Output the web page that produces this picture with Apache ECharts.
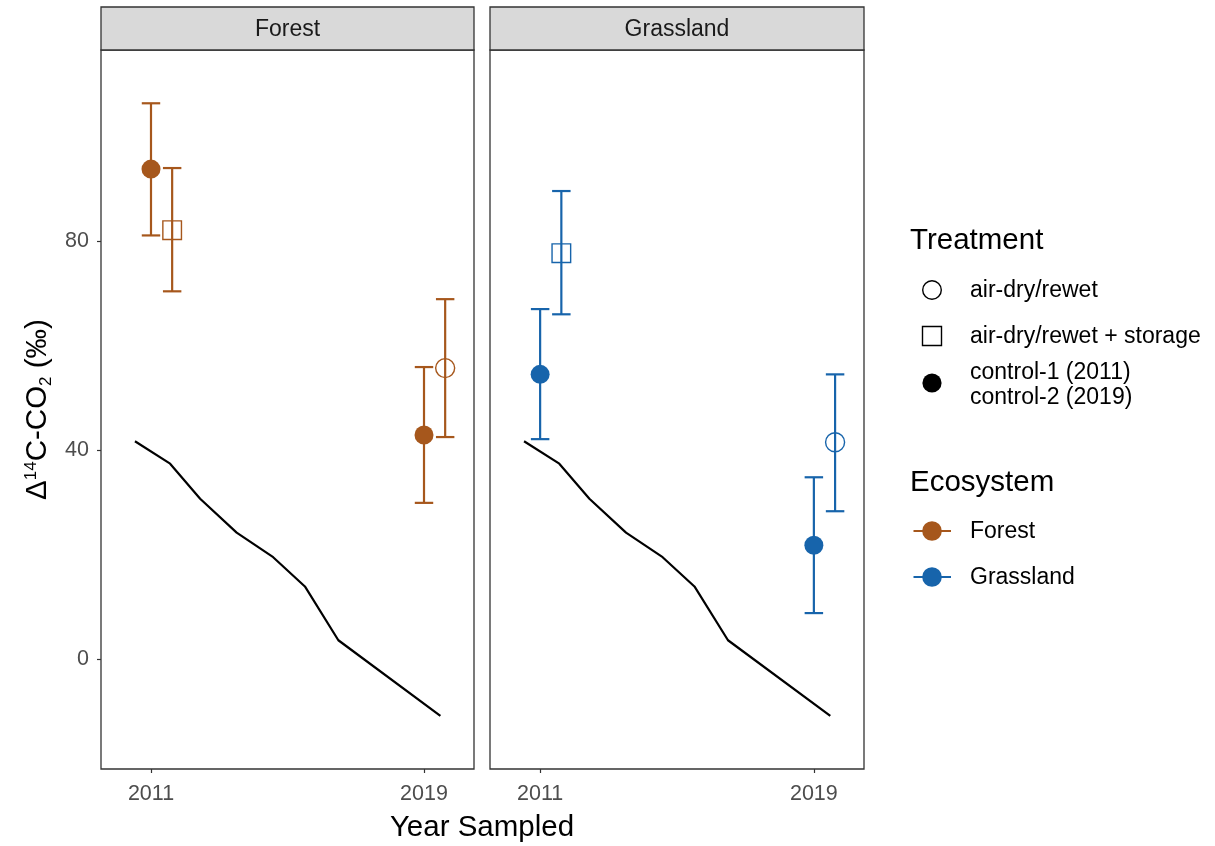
<!DOCTYPE html>
<html>
<head>
<meta charset="utf-8">
<script src="https://cdn.jsdelivr.net/npm/echarts@6/dist/echarts.min.js"></script>
<style>
  html, body { margin: 0; padding: 0; background: #fff; }
  #chart { width: 1215px; height: 846px; }
</style>
</head>
<body>
<div id="chart"></div>
<script>
// sample groups (same order in both panels)
var treatments = ['control', 'storage', 'control', 'airdry'];
var sampleYears = [2011, 2011, 2019, 2019];

// Delta14C of respired CO2 (permil)
var forestMean = [93.8, 82.1, 42.9, 55.7];
var forestLo = [81.1, 70.4, 29.9, 42.5];
var forestHi = [106.4, 94.0, 55.9, 68.9];

var grassMean = [54.5, 77.7, 21.8, 41.5];
var grassLo = [42.1, 66.0, 8.8, 28.3];
var grassHi = [67.0, 89.6, 34.8, 54.5];

// atmospheric record
var atmYears = [2010.53, 2011.56, 2012.44, 2013.51, 2014.58, 2015.51, 2016.49, 2019.48];
var atmD14C = [41.7, 37.4, 30.7, 24.2, 19.5, 13.9, 3.6, -10.9];

var xTicks = [2011, 2019];
var yTicks = [0, 40, 80];

var colors = { Forest: '#A6571C', Grassland: '#1764AB' };
var DODGE = 0.62;
var FONT = '"Liberation Sans", Arial, Helvetica, sans-serif';

function buildData(mean, lo, hi) {
  return mean.map(function (m, i) {
    var x = sampleYears[i] + (treatments[i] === 'control' ? 0 : DODGE);
    return [x, m, lo[i], hi[i], treatments[i]];
  });
}

function errRender(color) {
  return function (params, api) {
    var x = api.value(0);
    var p = api.coord([x, api.value(1)]);
    var lo = api.coord([x, api.value(2)]);
    var hi = api.coord([x, api.value(3)]);
    var capL = api.coord([x - 0.27, api.value(2)])[0];
    var capR = api.coord([x + 0.27, api.value(2)])[0];
    var ls = { stroke: color, lineWidth: 2.2 };
    var kind = api.value(4);
    var children = [
      { type: 'line', shape: { x1: lo[0], y1: lo[1], x2: hi[0], y2: hi[1] }, style: ls },
      { type: 'line', shape: { x1: capL, y1: lo[1], x2: capR, y2: lo[1] }, style: ls },
      { type: 'line', shape: { x1: capL, y1: hi[1], x2: capR, y2: hi[1] }, style: ls }
    ];
    if (kind === 'control') {
      children.push({ type: 'circle', shape: { cx: p[0], cy: p[1], r: 9.5 }, style: { fill: color } });
    } else if (kind === 'storage') {
      children.push({ type: 'rect', shape: { x: p[0] - 9.3, y: p[1] - 9.3, width: 18.6, height: 18.6 },
        style: { fill: null, stroke: color, lineWidth: 1.4 } });
    } else {
      children.push({ type: 'circle', shape: { cx: p[0], cy: p[1], r: 9.5 },
        style: { fill: null, stroke: color, lineWidth: 1.4 } });
    }
    return { type: 'group', children: children };
  };
}

var chart = echarts.init(document.getElementById('chart'));

var panels = [
  { name: 'Forest', left: 101, width: 373, mean: forestMean, lo: forestLo, hi: forestHi },
  { name: 'Grassland', left: 490, width: 374, mean: grassMean, lo: grassLo, hi: grassHi }
];

var grids = [], xAxes = [], yAxes = [], series = [], graphics = [];
var atmLine = atmYears.map(function (y, i) { return [y, atmD14C[i]]; });

panels.forEach(function (pn, k) {
  grids.push({ left: pn.left, width: pn.width, top: 50, height: 719, show: true,
    borderColor: '#333333', borderWidth: 1.3, backgroundColor: '#fff' });
  xAxes.push({
    type: 'value', gridIndex: k, min: 2009.535, max: 2020.465,
    splitLine: { show: false },
    axisLine: { show: false, onZero: false },
    axisTick: { show: true, length: 4, customValues: xTicks, lineStyle: { color: '#333', width: 1.2 } },
    axisLabel: { customValues: xTicks, color: '#4D4D4D', fontSize: 21.5, fontFamily: FONT, margin: 14,
      formatter: function (v) { return String(v); } }
  });
  yAxes.push({
    type: 'value', gridIndex: k, min: -21.05, max: 116.6,
    splitLine: { show: false },
    axisLine: { show: false, onZero: false },
    axisTick: { show: k === 0, length: 4, customValues: yTicks, lineStyle: { color: '#333', width: 1.2 } },
    axisLabel: { show: k === 0, customValues: yTicks, color: '#4D4D4D', fontSize: 21.5, fontFamily: FONT, margin: 12 },
    name: k === 0 ? '{n|Δ}{sup|14}{n|C-CO}{sub|2}{n| (‰)}' : '',
    nameLocation: 'middle', nameRotate: 90, nameGap: 45,
    nameTextStyle: {
      fontFamily: FONT,
      rich: {
        n: { fontSize: 29.5, fontFamily: FONT, color: '#000', lineHeight: 36, verticalAlign: 'middle' },
        sup: { fontSize: 17, fontFamily: FONT, color: '#000', lineHeight: 36, verticalAlign: 'top', padding: [3, 0, 0, 0] },
        sub: { fontSize: 17, fontFamily: FONT, color: '#000', lineHeight: 36, verticalAlign: 'bottom', padding: [0, 0, 1, 0] }
      }
    }
  });
  series.push({
    type: 'line', xAxisIndex: k, yAxisIndex: k, data: atmLine, showSymbol: false,
    lineStyle: { color: '#000', width: 2.2 }, silent: true, z: 2
  });
  series.push({
    type: 'custom', xAxisIndex: k, yAxisIndex: k, data: buildData(pn.mean, pn.lo, pn.hi),
    renderItem: errRender(colors[pn.name]), z: 3, silent: true
  });
  // facet strip
  graphics.push({ type: 'rect', shape: { x: pn.left, y: 7, width: pn.width, height: 43 },
    style: { fill: '#D9D9D9', stroke: '#333333', lineWidth: 1.3 } });
  graphics.push({ type: 'text', x: pn.left + pn.width / 2, y: 30,
    style: { text: pn.name, font: '23px ' + FONT, fill: '#1A1A1A', align: 'center', verticalAlign: 'middle' } });
});

// x axis title
graphics.push({ type: 'text', x: 482, y: 828,
  style: { text: 'Year Sampled', font: '29.5px ' + FONT, fill: '#000', align: 'center', verticalAlign: 'middle' } });

// legends
function legText(x, y, t, size) {
  return { type: 'text', x: x, y: y,
    style: { text: t, font: size + 'px ' + FONT, fill: '#000', align: 'left', verticalAlign: 'middle', lineHeight: 25 } };
}
graphics.push(legText(910, 241, 'Treatment', 29.5));
graphics.push({ type: 'circle', shape: { cx: 932, cy: 290, r: 9.3 }, style: { fill: null, stroke: '#000', lineWidth: 1.4 } });
graphics.push(legText(970, 291, 'air-dry/rewet', 23));
graphics.push({ type: 'rect', shape: { x: 922.5, y: 326.5, width: 19, height: 19 }, style: { fill: null, stroke: '#000', lineWidth: 1.4 } });
graphics.push(legText(970, 337, 'air-dry/rewet + storage', 23));
graphics.push({ type: 'circle', shape: { cx: 932, cy: 383, r: 9.6 }, style: { fill: '#000' } });
graphics.push(legText(970, 385, 'control-1 (2011)\ncontrol-2 (2019)', 23));
graphics.push(legText(910, 483, 'Ecosystem', 29.5));
['Forest', 'Grassland'].forEach(function (nm, i) {
  var cy = 531 + i * 46;
  graphics.push({ type: 'line', shape: { x1: 913.5, y1: cy, x2: 951, y2: cy }, style: { stroke: colors[nm], lineWidth: 2.2 } });
  graphics.push({ type: 'circle', shape: { cx: 932, cy: cy, r: 9.8 }, style: { fill: colors[nm] } });
  graphics.push(legText(970, cy + 1, nm, 23));
});

chart.setOption({
  animation: false,
  grid: grids,
  xAxis: xAxes,
  yAxis: yAxes,
  series: series,
  graphic: graphics
});
</script>
</body>
</html>
